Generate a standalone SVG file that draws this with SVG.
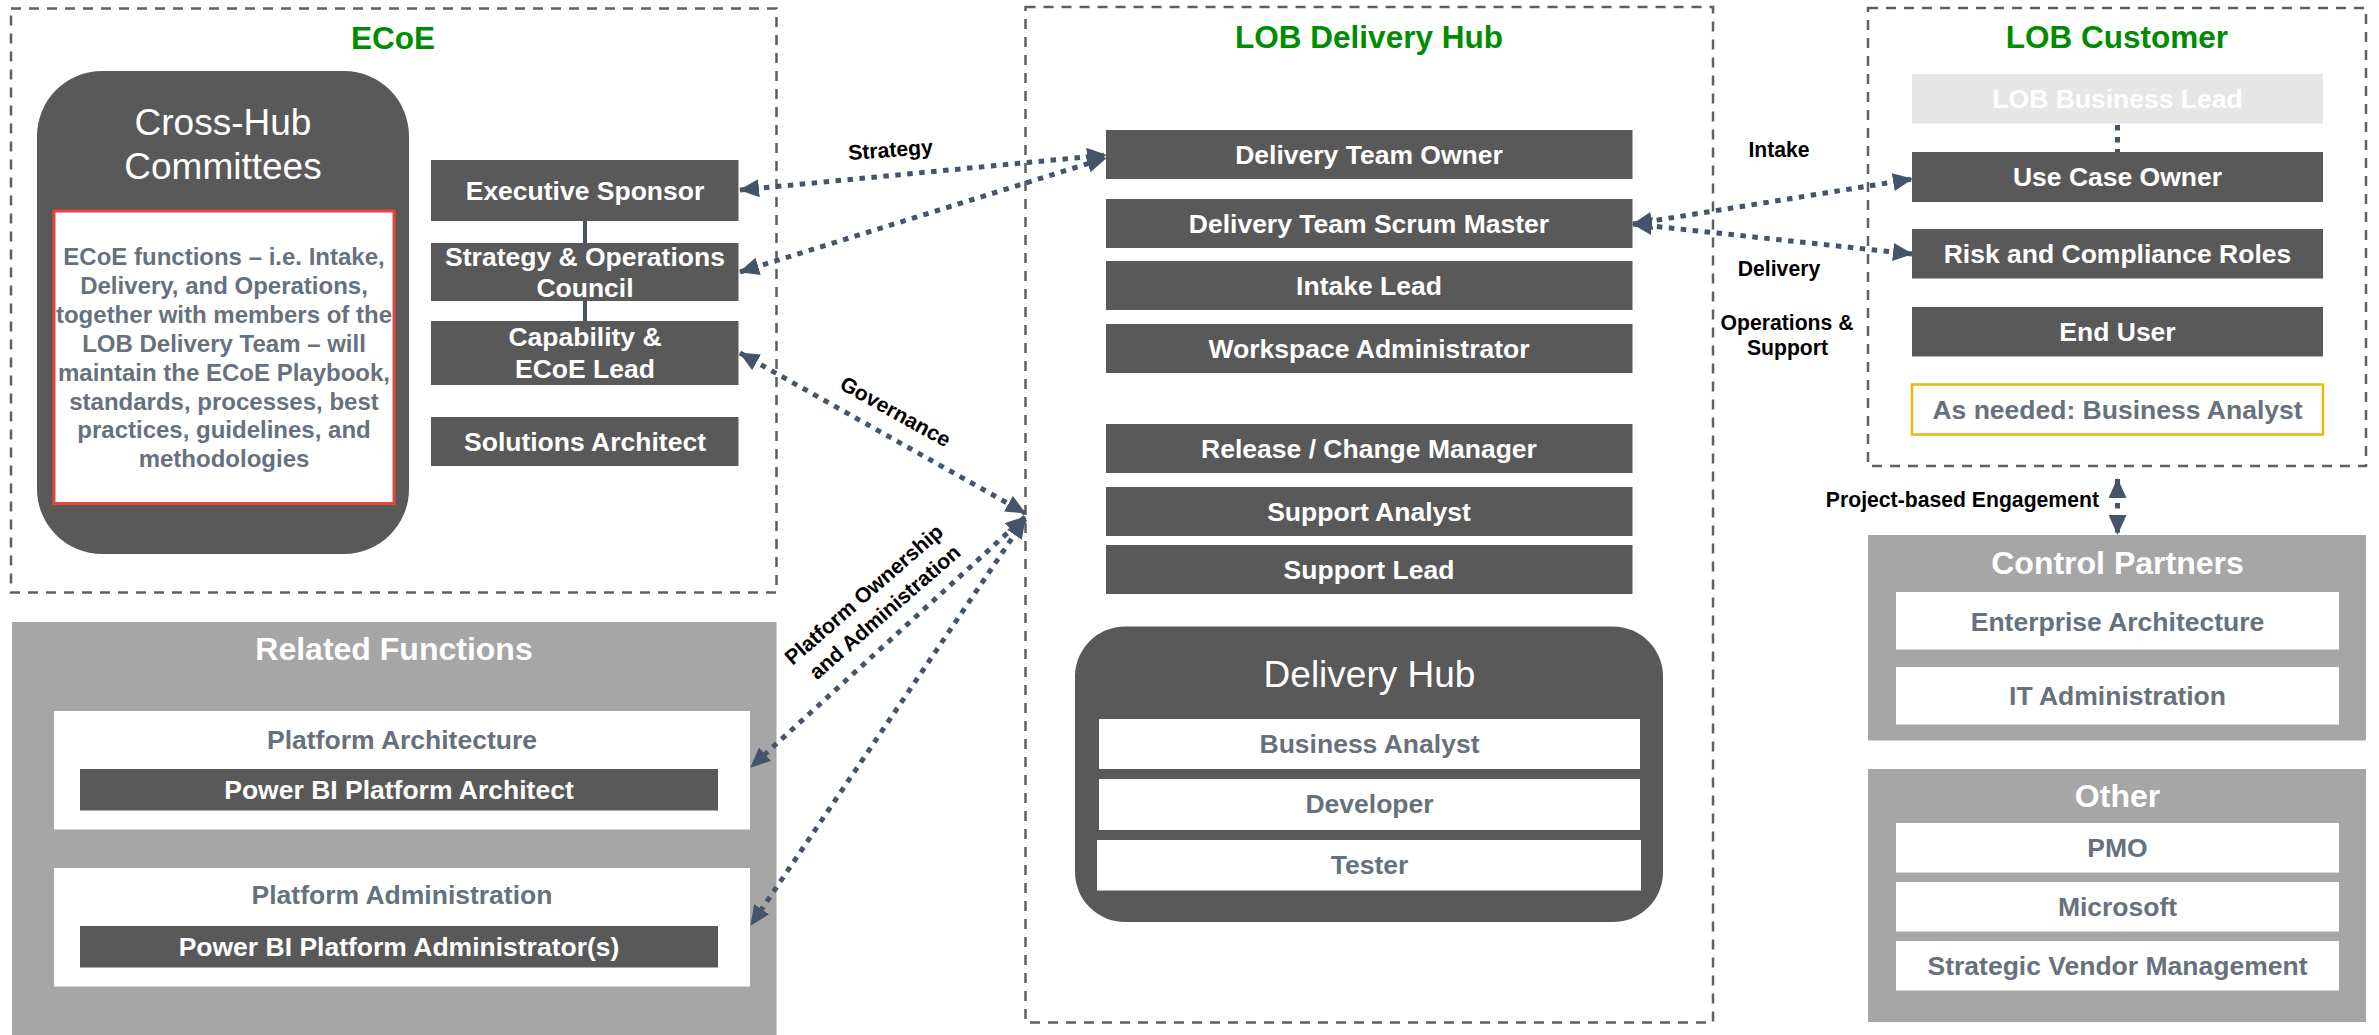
<svg xmlns="http://www.w3.org/2000/svg" width="2379" height="1035" viewBox="0 0 2379 1035">
  <defs>
    <marker id="arrow" markerUnits="userSpaceOnUse" markerWidth="20" markerHeight="18" refX="19" refY="9" orient="auto-start-reverse">
      <path d="M0,0 L20,9 L0,18 z" fill="#44546a"/>
    </marker>
    <style>
      text { font-family: "Liberation Sans", Arial, sans-serif; font-weight: bold; text-anchor: middle; }
      .frame { fill: none; stroke: #5f5f5f; stroke-width: 2.5; stroke-dasharray: 10 8; }
      .title { fill: #008c00; font-size: 31.5px; }
      .role { fill: #595959; }
      .role-t { fill: #ffffff; font-size: 26.5px; }
      .panel { fill: #a6a6a6; }
      .panel-t { fill: #ffffff; font-size: 32px; }
      .card { fill: #ffffff; }
      .card-t { fill: #67717e; font-size: 26.5px; }
      .hub { fill: #595959; }
      .hub-t { fill: #ffffff; font-size: 37px; font-weight: normal; }
      .label { fill: #000000; font-size: 21.2px; }
      .link { fill: none; stroke: #44546a; stroke-width: 5; stroke-dasharray: 5.5 6.5; }
      .solid { fill: none; stroke: #44546a; stroke-width: 4; }
    </style>
  </defs>

  <rect width="2379" height="1035" fill="#ffffff"/>

  <!-- ECoE -->
  <g id="ecoe">
    <rect class="frame" x="11" y="8.5" width="765.5" height="584"/>
    <text class="title" x="393" y="49">ECoE</text>
  </g>

  <g id="cross-hub-committees">
    <rect class="hub" x="37" y="71" width="372" height="483" rx="65" ry="65"/>
    <text class="hub-t" x="223" y="135">Cross-Hub</text>
    <text class="hub-t" x="223" y="179">Committees</text>
    <rect x="54" y="211" width="340" height="292.5" fill="#ffffff" stroke="#e8453c" stroke-width="3"/>
    <g fill="#67717e" font-size="24">
      <text x="224" y="265">ECoE functions – i.e. Intake,</text>
      <text x="224" y="294">Delivery, and Operations,</text>
      <text x="224" y="323">together with members of the</text>
      <text x="224" y="352">LOB Delivery Team – will</text>
      <text x="224" y="381">maintain the ECoE Playbook,</text>
      <text x="224" y="409.5">standards, processes, best</text>
      <text x="224" y="438">practices, guidelines, and</text>
      <text x="224" y="466.5">methodologies</text>
    </g>
  </g>

  <g id="executive-sponsor">
    <rect class="role" x="431" y="160" width="307.5" height="61"/>
    <text class="role-t" x="585" y="199.5">Executive Sponsor</text>
  </g>
  <g id="strategy-operations-council">
    <rect class="role" x="431" y="243" width="307.5" height="58"/>
    <text class="role-t" x="585" y="266">Strategy &amp; Operations</text>
    <text class="role-t" x="585" y="297">Council</text>
  </g>
  <g id="capability-ecoe-lead">
    <rect class="role" x="431" y="321" width="307.5" height="64"/>
    <text class="role-t" x="585" y="346">Capability &amp;</text>
    <text class="role-t" x="585" y="377.5">ECoE Lead</text>
  </g>
  <g id="solutions-architect">
    <rect class="role" x="431" y="417" width="307.5" height="49"/>
    <text class="role-t" x="585" y="451">Solutions Architect</text>
  </g>

  <!-- Related Functions -->
  <g id="related-functions">
    <rect class="panel" x="12" y="622" width="764.5" height="413"/>
    <text class="panel-t" x="394" y="660">Related Functions</text>
  </g>
  <g id="platform-architecture">
    <rect class="card" x="54" y="711" width="696" height="118.5"/>
    <text class="card-t" x="402" y="748.5">Platform Architecture</text>
    <rect class="role" x="80" y="769" width="638" height="41.5"/>
    <text class="role-t" x="399" y="799">Power BI Platform Architect</text>
  </g>
  <g id="platform-administration">
    <rect class="card" x="54" y="868" width="696" height="118.5"/>
    <text class="card-t" x="402" y="903.5">Platform Administration</text>
    <rect class="role" x="80" y="926" width="638" height="41.5"/>
    <text class="role-t" x="399" y="956">Power BI Platform Administrator(s)</text>
  </g>

  <!-- LOB Delivery Hub -->
  <g id="lob-delivery-hub">
    <rect class="frame" x="1025.5" y="7" width="687.5" height="1015.5"/>
    <text class="title" x="1369" y="48">LOB Delivery Hub</text>
  </g>
  <g id="delivery-team-owner">
    <rect class="role" x="1106" y="130" width="526.5" height="49"/>
    <text class="role-t" x="1369" y="164">Delivery Team Owner</text>
  </g>
  <g id="delivery-team-scrum-master">
    <rect class="role" x="1106" y="199" width="526.5" height="49"/>
    <text class="role-t" x="1369" y="233">Delivery Team Scrum Master</text>
  </g>
  <g id="intake-lead">
    <rect class="role" x="1106" y="261" width="526.5" height="49"/>
    <text class="role-t" x="1369" y="295">Intake Lead</text>
  </g>
  <g id="workspace-administrator">
    <rect class="role" x="1106" y="324" width="526.5" height="49"/>
    <text class="role-t" x="1369" y="358">Workspace Administrator</text>
  </g>
  <g id="release-change-manager">
    <rect class="role" x="1106" y="424" width="526.5" height="49"/>
    <text class="role-t" x="1369" y="458">Release / Change Manager</text>
  </g>
  <g id="support-analyst">
    <rect class="role" x="1106" y="487" width="526.5" height="49"/>
    <text class="role-t" x="1369" y="521">Support Analyst</text>
  </g>
  <g id="support-lead">
    <rect class="role" x="1106" y="545" width="526.5" height="49"/>
    <text class="role-t" x="1369" y="579">Support Lead</text>
  </g>
  <g id="delivery-hub">
    <rect class="hub" x="1075" y="626.5" width="588" height="295.5" rx="50" ry="50"/>
    <text class="hub-t" x="1369.5" y="686.5">Delivery Hub</text>
    <rect class="card" x="1099" y="719" width="541" height="50"/>
    <text class="card-t" x="1369.5" y="753" font-size="23.8">Business Analyst</text>
    <rect class="card" x="1099" y="779" width="541" height="51"/>
    <text class="card-t" x="1369.5" y="813" font-size="23.8">Developer</text>
    <rect class="card" x="1097" y="840" width="544" height="50.5"/>
    <text class="card-t" x="1369.5" y="874" font-size="23.8">Tester</text>
  </g>

  <!-- LOB Customer -->
  <g id="lob-customer">
    <rect class="frame" x="1868" y="8" width="498" height="458"/>
    <text class="title" x="2117" y="48">LOB Customer</text>
  </g>
  <g id="lob-business-lead">
    <rect x="1912" y="74" width="411" height="49.5" fill="#e6e6e6"/>
    <text class="role-t" x="2117.5" y="108">LOB Business Lead</text>
  </g>
  <g id="use-case-owner">
    <rect class="role" x="1912" y="152" width="411" height="50"/>
    <text class="role-t" x="2117.5" y="186">Use Case Owner</text>
  </g>
  <g id="risk-compliance-roles">
    <rect class="role" x="1912" y="229" width="411" height="49.5"/>
    <text class="role-t" x="2117.5" y="263">Risk and Compliance Roles</text>
  </g>
  <g id="end-user">
    <rect class="role" x="1912" y="307" width="411" height="49.5"/>
    <text class="role-t" x="2117.5" y="341">End User</text>
  </g>
  <g id="business-analyst-as-needed">
    <rect x="1912" y="384.5" width="411" height="50" fill="#ffffff" stroke="#eeb80a" stroke-width="2.5"/>
    <text class="card-t" x="2117.5" y="419">As needed: Business Analyst</text>
  </g>

  <!-- Control Partners -->
  <g id="control-partners">
    <rect class="panel" x="1868" y="535" width="498" height="205.5"/>
    <text class="panel-t" x="2117.5" y="573.5">Control Partners</text>
    <rect class="card" x="1896" y="592" width="443" height="57.5"/>
    <text class="card-t" x="2117.5" y="631">Enterprise Architecture</text>
    <rect class="card" x="1896" y="667" width="443" height="57.5"/>
    <text class="card-t" x="2117.5" y="705">IT Administration</text>
  </g>

  <!-- Other -->
  <g id="other">
    <rect class="panel" x="1868" y="769" width="498" height="253"/>
    <text class="panel-t" x="2117.5" y="807">Other</text>
    <rect class="card" x="1896" y="823" width="443" height="49.5"/>
    <text class="card-t" x="2117.5" y="857">PMO</text>
    <rect class="card" x="1896" y="882" width="443" height="49.5"/>
    <text class="card-t" x="2117.5" y="916">Microsoft</text>
    <rect class="card" x="1896" y="941" width="443" height="49.5"/>
    <text class="card-t" x="2117.5" y="975">Strategic Vendor Management</text>
  </g>

  <!-- Connectors -->
  <g id="connectors">
    <line class="solid" x1="585" y1="221" x2="585" y2="243"/>
    <line class="solid" x1="585" y1="301" x2="585" y2="321"/>

    <line class="link" x1="740" y1="190" x2="1106" y2="155" marker-start="url(#arrow)" marker-end="url(#arrow)"/>
    <line class="link" x1="740" y1="272" x2="1106" y2="158" marker-start="url(#arrow)" marker-end="url(#arrow)"/>
    <line class="link" x1="740" y1="353" x2="1025" y2="513" marker-start="url(#arrow)" marker-end="url(#arrow)"/>
    <line class="link" x1="1025" y1="517" x2="751" y2="767" marker-start="url(#arrow)" marker-end="url(#arrow)"/>
    <line class="link" x1="1025" y1="519" x2="751" y2="925" marker-start="url(#arrow)" marker-end="url(#arrow)"/>

    <line class="link" x1="1633" y1="224" x2="1912" y2="179" marker-start="url(#arrow)" marker-end="url(#arrow)"/>
    <line class="link" x1="1633" y1="224" x2="1912" y2="254" marker-start="url(#arrow)" marker-end="url(#arrow)"/>

    <line class="link" x1="2117.5" y1="125" x2="2117.5" y2="152" stroke-dasharray="5 6"/>
    <line class="link" x1="2117.5" y1="479" x2="2117.5" y2="534" stroke-dasharray="5 6" marker-start="url(#arrow)" marker-end="url(#arrow)"/>

    <text class="label" x="891" y="157" transform="rotate(-4 891 157)">Strategy</text>
    <text class="label" x="892" y="418" transform="rotate(29 892 418)">Governance</text>
    <text class="label" x="868.5" y="600" transform="rotate(-41 868.5 600)">Platform Ownership</text>
    <text class="label" x="889.5" y="617.5" transform="rotate(-41 889.5 617.5)">and Administration</text>
    <text class="label" x="1779" y="157">Intake</text>
    <text class="label" x="1779" y="275.5">Delivery</text>
    <text class="label" x="1787" y="330">Operations &amp;</text>
    <text class="label" x="1787.5" y="355">Support</text>
    <text class="label" x="2099" y="507" style="text-anchor:end">Project-based Engagement</text>
  </g>
</svg>
